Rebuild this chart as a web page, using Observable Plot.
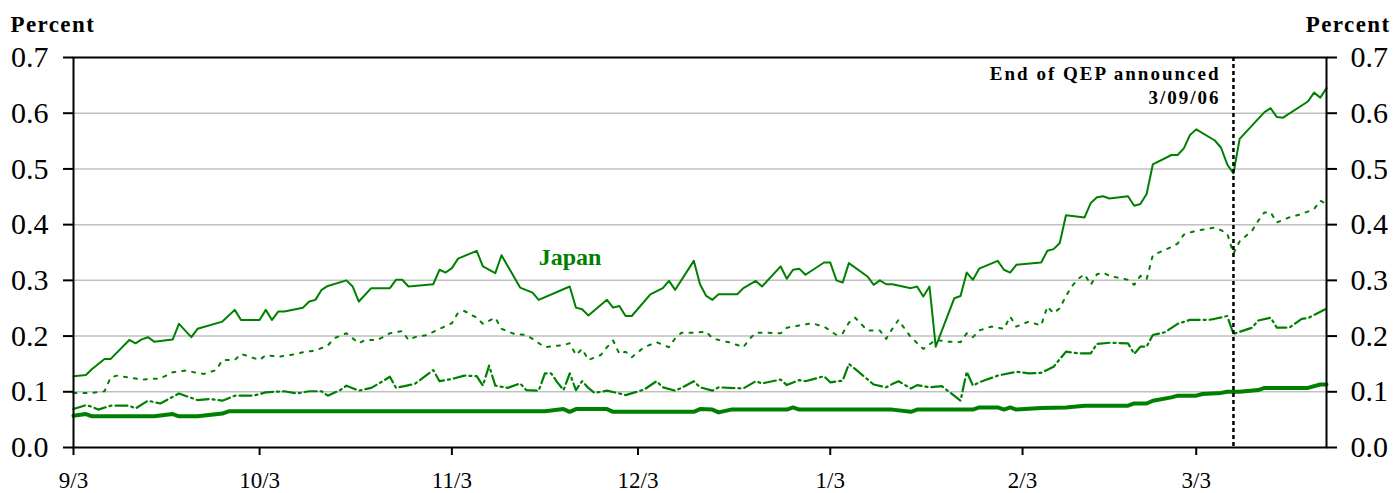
<!DOCTYPE html>
<html><head><meta charset="utf-8">
<script src="https://cdn.jsdelivr.net/npm/d3@7"></script>
<script src="https://cdn.jsdelivr.net/npm/@observablehq/plot@0.6"></script>
<style>
body{margin:0;background:#fff}
#chart svg text { font-family: "Liberation Serif", "DejaVu Serif", serif !important; }
</style>
</head><body><div id="chart"></div>
<script>
// ---- data (M/D; Sep-Dec = 2005, Jan-Mar = 2006) ----
const thinSolid = [
["9/3",.128],["9/5",.130],["9/6",.141],["9/8",.159],["9/9",.159],["9/12",.193],["9/13",.187],["9/14",.194],["9/15",.198],["9/16",.190],["9/19",.194],["9/20",.222],["9/22",.198],["9/23",.213],["9/27",.226],["9/29",.247],["9/30",.229],
["10/3",.229],["10/4",.247],["10/5",.229],["10/6",.244],["10/7",.244],["10/10",.251],["10/11",.262],["10/12",.265],["10/13",.283],["10/14",.290],["10/17",.300],["10/18",.289],["10/19",.262],["10/21",.286],["10/24",.286],["10/25",.301],["10/26",.301],["10/27",.289],["10/31",.293],
["11/1",.319],["11/2",.314],["11/3",.322],["11/4",.339],["11/7",.353],["11/8",.325],["11/10",.313],["11/11",.345],["11/14",.287],["11/16",.278],["11/17",.265],["11/22",.289],["11/23",.251],["11/24",.248],["11/25",.237],["11/28",.265],["11/29",.251],["11/30",.254],
["12/1",.236],["12/2",.236],["12/5",.275],["12/7",.286],["12/8",.299],["12/9",.283],["12/12",.335],["12/13",.293],["12/14",.272],["12/15",.265],["12/16",.275],["12/19",.275],["12/20",.286],["12/22",.299],["12/23",.289],["12/26",.325],["12/27",.303],["12/28",.319],["12/29",.321],["12/30",.310],
["1/2",.332],["1/3",.332],["1/4",.300],["1/5",.296],["1/6",.331],["1/9",.307],["1/10",.292],["1/11",.300],["1/12",.293],["1/13",.293],["1/16",.286],["1/17",.289],["1/18",.271],["1/19",.289],["1/20",.181],["1/23",.268],["1/24",.272],["1/25",.314],["1/26",.301],["1/27",.321],["1/30",.335],["1/31",.319],
["2/1",.314],["2/2",.328],["2/6",.332],["2/7",.353],["2/8",.356],["2/9",.367],["2/10",.417],["2/13",.413],["2/14",.439],["2/15",.449],["2/16",.451],["2/17",.447],["2/20",.451],["2/21",.434],["2/22",.437],["2/23",.455],["2/24",.508],["2/27",.525],["2/28",.525],
["3/1",.537],["3/2",.561],["3/3",.571],["3/6",.551],["3/7",.538],["3/8",.508],["3/9",.492],["3/10",.554],["3/14",.602],["3/15",.609],["3/16",.593],["3/17",.592],["3/21",.621],["3/22",.637],["3/23",.628],["3/24",.645]
];
const dotted = [
["9/3",.098],["9/6",.098],["9/8",.101],["9/9",.126],["9/10",.129],["9/14",.122],["9/17",.124],["9/19",.135],["9/21",.138],["9/24",.132],["9/26",.139],["9/27",.157],["9/29",.157],["9/30",.168],
["10/3",.157],["10/4",.166],["10/6",.163],["10/8",.166],["10/10",.171],["10/12",.174],["10/14",.183],["10/15",.196],["10/17",.205],["10/19",.187],["10/20",.193],["10/22",.193],["10/24",.205],["10/26",.209],["10/27",.193],["10/28",.198],["10/30",.202],
["11/1",.213],["11/3",.223],["11/4",.242],["11/5",.245],["11/7",.233],["11/8",.222],["11/10",.233],["11/11",.213],["11/13",.204],["11/15",.202],["11/16",.195],["11/18",.180],["11/21",.184],["11/22",.187],["11/23",.166],["11/24",.177],["11/25",.157],["11/27",.166],["11/28",.180],["11/29",.192],["11/30",.168],
["12/1",.172],["12/2",.162],["12/4",.180],["12/6",.189],["12/8",.180],["12/9",.196],["12/10",.206],["12/12",.206],["12/14",.208],["12/15",.196],["12/16",.193],["12/18",.188],["12/20",.180],["12/21",.195],["12/22",.206],["12/24",.206],["12/26",.205],["12/27",.215],["12/29",.219],["12/31",.223],
["1/2",.217],["1/4",.202],["1/5",.205],["1/6",.224],["1/7",.233],["1/9",.210],["1/11",.210],["1/12",.195],["1/13",.213],["1/14",.229],["1/15",.213],["1/16",.198],["1/18",.177],["1/20",.193],["1/22",.190],["1/24",.189],["1/25",.205],["1/26",.198],["1/27",.210],["1/29",.217],["1/31",.213],
["2/1",.235],["2/2",.217],["2/4",.226],["2/6",.219],["2/7",.253],["2/8",.241],["2/9",.250],["2/10",.272],["2/11",.290],["2/12",.303],["2/13",.311],["2/14",.292],["2/15",.311],["2/16",.314],["2/17",.308],["2/20",.301],["2/21",.292],["2/22",.308],["2/23",.302],["2/24",.345],["2/27",.360],["2/28",.366],
["3/1",.382],["3/2",.386],["3/3",.389],["3/6",.395],["3/7",.390],["3/8",.384],["3/9",.348],["3/10",.370],["3/12",.389],["3/13",.407],["3/14",.422],["3/15",.422],["3/16",.404],["3/18",.413],["3/20",.419],["3/22",.428],["3/23",.443],["3/24",.437]
];
const dashDot = [
["9/3",.069],["9/5",.076],["9/6",.073],["9/7",.068],["9/9",.075],["9/12",.075],["9/13",.070],["9/15",.084],["9/17",.079],["9/20",.097],["9/21",.093],["9/23",.085],["9/25",.087],["9/27",.084],["9/29",.093],
["10/2",.093],["10/4",.099],["10/7",.101],["10/9",.097],["10/11",.101],["10/13",.101],["10/14",.093],["10/16",.103],["10/17",.111],["10/19",.102],["10/21",.107],["10/23",.120],["10/24",.127],["10/25",.107],["10/28",.114],["10/31",.139],
["11/1",.119],["11/3",.123],["11/5",.129],["11/7",.128],["11/8",.111],["11/9",.147],["11/10",.111],["11/12",.107],["11/14",.115],["11/15",.103],["11/17",.102],["11/18",.133],["11/19",.133],["11/20",.117],["11/21",.103],["11/22",.133],["11/23",.103],["11/24",.119],["11/25",.107],["11/26",.098],["11/28",.102],["11/30",.097],
["12/1",.094],["12/4",.104],["12/6",.119],["12/7",.108],["12/9",.102],["12/10",.107],["12/12",.119],["12/13",.108],["12/15",.102],["12/16",.108],["12/20",.106],["12/22",.119],["12/23",.115],["12/26",.122],["12/27",.112],["12/29",.121],["12/30",.119],
["1/2",.128],["1/3",.117],["1/5",.120],["1/6",.150],["1/7",.141],["1/10",.113],["1/12",.108],["1/13",.114],["1/14",.119],["1/16",.106],["1/17",.112],["1/19",.108],["1/21",.110],["1/24",.084],["1/25",.136],["1/26",.111],["1/27",.117],["1/28",.121],["1/30",.129],
["2/2",.136],["2/4",.133],["2/6",.134],["2/8",.145],["2/10",.172],["2/12",.169],["2/14",.169],["2/15",.186],["2/17",.188],["2/20",.187],["2/21",.168],["2/22",.181],["2/23",.181],["2/24",.202],["2/26",.207],["2/28",.222],
["3/2",.229],["3/5",.229],["3/6",.231],["3/8",.236],["3/9",.204],["3/12",.215],["3/13",.228],["3/15",.233],["3/16",.215],["3/18",.215],["3/20",.231],["3/21",.232],["3/22",.238],["3/24",.249]
];
const thickSolid = [
["9/3",.057],["9/5",.060],["9/6",.056],["9/16",.056],["9/19",.060],["9/20",.056],["9/23",.056],["9/27",.061],["9/28",.065],
["11/18",.065],["11/21",.069],["11/22",.064],["11/23",.069],["11/28",.069],["11/29",.064],
["12/12",.064],["12/13",.069],["12/15",.068],["12/16",.063],["12/18",.068],["12/27",.068],["12/28",.072],["12/29",.068],
["1/13",.068],["1/16",.064],["1/17",.068],["1/26",.068],["1/27",.072],["1/30",.072],["1/31",.068],
["2/1",.072],["2/2",.068],["2/6",.071],["2/10",.072],["2/13",.075],["2/20",.075],["2/21",.079],["2/23",.079],["2/24",.084],["2/27",.090],["2/28",.093],
["3/3",.093],["3/4",.096],["3/7",.098],["3/8",.100],["3/10",.100],["3/13",.103],["3/14",.107],["3/21",.107],["3/23",.113],["3/24",.113]
];
const xDomainLabels = ["9/3", "3/24"];
const xTickLabels = ["9/3","10/3","11/3","12/3","1/3","2/3","3/3"];
const yTickValues = [0,0.1,0.2,0.3,0.4,0.5,0.6,0.7];
const gridValues = [0.1,0.2,0.3,0.4,0.5,0.6];
const qepDateLabel = "3/9";
const qepText = "End of QEP announced\n3/09/06";
const seriesLabel = "Japan";
const seriesLabelAt = ["11/17", 0.342];
const axisTitle = "Percent";

// ---- helpers ----
function toDate(s){const [m,d]=s.split("/").map(Number);return new Date(Date.UTC(m>=9?2005:2006,m-1,d));}
const rows = arr => arr.map(([d,v]) => ({date: toDate(d), value: v}));
const fmtMD = d => `${d.getUTCMonth()+1}/${d.getUTCDate()}`;
const green = "#008000";
const serif = "Liberation Serif, DejaVu Serif, serif";

const plot = Plot.plot({
  width: 1393, height: 493,
  marginLeft: 73, marginRight: 67, marginTop: 57, marginBottom: 46,
  style: {fontFamily: serif, background: "white", color: "black", overflow: "visible"},
  x: {type: "utc", domain: xDomainLabels.map(toDate)},
  y: {domain: [0, 0.7]},
  marks: [
    Plot.gridY(gridValues, {stroke: "#c0c0c0", strokeOpacity: 1, strokeWidth: 1.5}),
    Plot.line(rows(thickSolid), {x: "date", y: "value", stroke: green, strokeWidth: 4, strokeLinejoin: "round"}),
    Plot.line(rows(dashDot), {x: "date", y: "value", stroke: green, strokeWidth: 2.2, strokeDasharray: "12,4,2,4"}),
    Plot.line(rows(dotted), {x: "date", y: "value", stroke: green, strokeWidth: 2, strokeDasharray: "3,7"}),
    Plot.line(rows(thinSolid), {x: "date", y: "value", stroke: green, strokeWidth: 2}),
    Plot.ruleX([toDate(qepDateLabel)], {stroke: "black", strokeWidth: 2.5, strokeDasharray: "4,3"}),
    Plot.frame({stroke: "black", strokeWidth: 2}),
    Plot.axisY(yTickValues, {anchor: "left", tickSize: 10, tickPadding: 15, fontSize: 30, fontFamily: serif, tickFormat: d => d.toFixed(1), label: null, strokeWidth: 2}),
    Plot.axisY(yTickValues, {anchor: "right", tickSize: 10, tickPadding: 14, fontSize: 30, fontFamily: serif, tickFormat: d => d.toFixed(1), label: null, strokeWidth: 2}),
    Plot.axisX(xTickLabels.map(toDate), {anchor: "bottom", tickSize: 8, tickPadding: 16, fontSize: 23, fontFamily: serif, tickFormat: fmtMD, label: null, strokeWidth: 2}),
    Plot.text([axisTitle], {text: d => d, frameAnchor: "top-left", dx: -63, dy: -26, textAnchor: "start", lineAnchor: "bottom", fontSize: 23, fontWeight: "bold", fontFamily: serif}),
    Plot.text([axisTitle], {text: d => d, frameAnchor: "top-right", dx: 64, dy: -26, textAnchor: "end", lineAnchor: "bottom", fontSize: 23, fontWeight: "bold", fontFamily: serif}),
    Plot.text([qepText], {text: d => d, x: () => toDate(qepDateLabel), frameAnchor: "top", textAnchor: "end", lineAnchor: "top", dx: -13, dy: 6, fontSize: 19, fontWeight: "bold", fontFamily: serif, lineHeight: 1.25}),
    Plot.text([seriesLabel], {text: d => d, x: () => toDate(seriesLabelAt[0]), y: () => seriesLabelAt[1], textAnchor: "start", lineAnchor: "middle", fontSize: 24, fontWeight: "bold", fontFamily: serif, fill: green})
  ]
});
plot.querySelectorAll("text").forEach(t => {
  const s = t.textContent;
  if (s.includes("QEP")) t.setAttribute("letter-spacing", "2");
  if (s === axisTitle) t.setAttribute("letter-spacing", "1.4");
});
document.getElementById("chart").appendChild(plot);
</script>
</body></html>
